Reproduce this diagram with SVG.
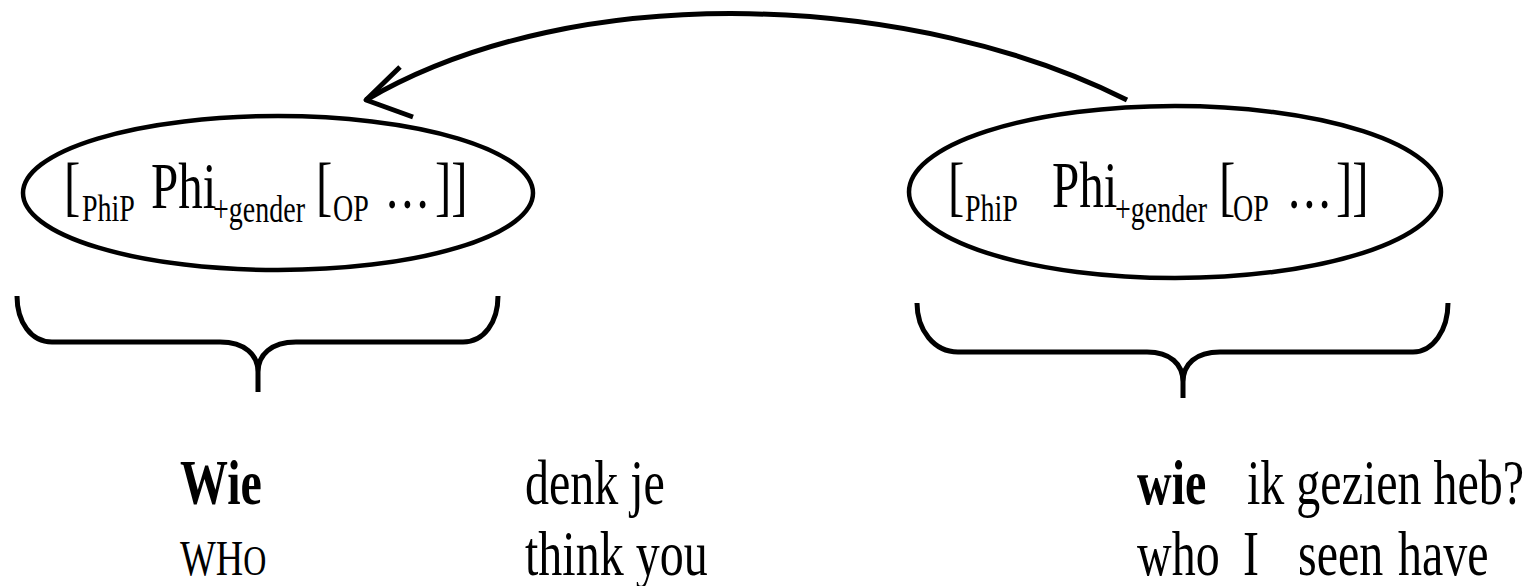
<svg xmlns="http://www.w3.org/2000/svg" width="1534" height="586" viewBox="0 0 1534 586">
<style>
.ln{fill:none;stroke:#000;stroke-width:5;stroke-linecap:butt;stroke-linejoin:round}
.el{fill:none;stroke:#000;stroke-width:4.5}
text{font-family:"Liberation Serif","Times New Roman",serif;fill:#000}
.b{font-size:49px}
.s{font-size:28px}
.g{font-size:48px}
.bd{font-weight:bold}
</style>
<rect width="1534" height="586" fill="#fff"/>
<g id="node-left">
<ellipse class="el" cx="278" cy="193" rx="255" ry="77"/>
<text class="b" transform="translate(64,208) scale(1,1.33)">[</text>
<text class="s" transform="translate(82,221) scale(1,1.33)">PhiP</text>
<text class="b" transform="translate(151,208) scale(1,1.33)">Phi</text>
<text class="s" transform="translate(213,222) scale(1,1.33)">+gender</text>
<text class="b" transform="translate(316,208) scale(1,1.33)">[</text>
<text class="s" transform="translate(333,221) scale(1,1.33)">OP</text>
<text class="b" letter-spacing="3" transform="translate(386,208) scale(1,1.33)">...</text>
<text class="b" transform="translate(435,208) scale(1,1.33)">]]</text>
</g>
<g id="node-right">
<ellipse class="el" cx="1175" cy="192" rx="266" ry="86"/>
<text class="b" transform="translate(948,208) scale(1,1.33)">[</text>
<text class="s" transform="translate(965,221) scale(1,1.33)">PhiP</text>
<text class="b" transform="translate(1052,207) scale(1,1.33)">Phi</text>
<text class="s" transform="translate(1115,222) scale(1,1.33)">+gender</text>
<text class="b" transform="translate(1219,208) scale(1,1.33)">[</text>
<text class="s" transform="translate(1233,221) scale(1,1.33)">OP</text>
<text class="b" letter-spacing="3" transform="translate(1288,208) scale(1,1.33)">...</text>
<text class="b" transform="translate(1336,208) scale(1,1.33)">]]</text>
</g>
<g id="brace-left">
<path class="ln" d="M17,296 C17,322 31,342 52,342 L220,342 C245,342 258,355 258,372 L258,392 M258,372 C258,355 271,342 296,342 L463,342 C484,342 498,322 498,296"/>
</g>
<g id="brace-right">
<path class="ln" d="M917,303 C917,330 934,352 958,352 L1147,352 C1170,352 1183,364 1183,382 L1183,398 M1183,382 C1183,364 1196,352 1220,352 L1413,352 C1433,352 1448,330 1448,303"/>
</g>
<g id="gloss-left">
<text class="g bd" transform="translate(180,504) scale(1,1.33)">Wie</text>
<text class="g" transform="translate(180,575) scale(1,1.33)"><tspan font-size="38">WH</tspan><tspan font-size="32">O</tspan></text>
</g>
<g id="gloss-middle">
<text class="g" transform="translate(525,504) scale(1,1.33)">denk je</text>
<text class="g" transform="translate(525,575) scale(1,1.33)">think you</text>
</g>
<g id="gloss-right">
<text class="g bd" transform="translate(1137,504) scale(1,1.33)">wie</text>
<text class="g" transform="translate(1247,504) scale(1,1.33)">ik gezien heb?</text>
<text class="g" transform="translate(1137,575) scale(1,1.33)">who</text>
<text class="g" transform="translate(1243,575) scale(1,1.33)">I</text>
<text class="g" transform="translate(1298,575) scale(1,1.33)">seen</text>
<text class="g" transform="translate(1398,575) scale(1,1.33)">have</text>
</g>
<g id="connectors">
<path class="ln" d="M1127,100 C920,-5 580,-25 366,100"/>
<path class="ln" d="M400,67 L366,100 L413,117"/>
</g>
</svg>
